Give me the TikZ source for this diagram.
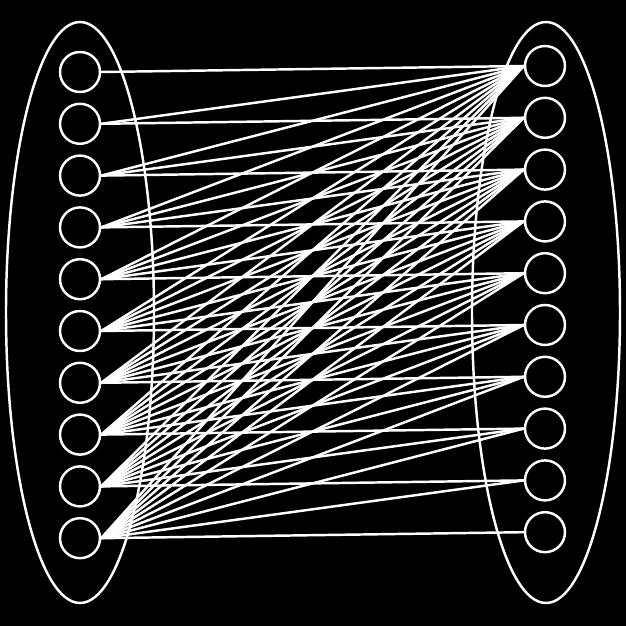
\documentclass[tikz,border=0pt]{standalone}
\usepackage{tikz}
\usetikzlibrary{shapes.geometric}

\begin{document}
\begin{tikzpicture}[
  unit/.style={draw=white, circle, line width=1.4pt, minimum size=0.8cm, inner sep=0pt, font=\scriptsize, text=black},
  group/.style={draw=white, ellipse, line width=1.4pt, minimum width=2.96cm, minimum height=11.62cm, inner sep=0pt},
  edge/.style={white, line width=1.4pt}
]
\fill[black] (0,0) rectangle (12.52,12.52);
\useasboundingbox (0,0) rectangle (12.52,12.52);
% the two layers
\node[group] (lgroup) at (1.6,6.27) {};
\node[group] (rgroup) at (10.92,6.27) {};
\foreach \i in {0,...,9} {
  \node[unit] (l\i) at (1.6,11.08-\i*1.036) {\i};
  \node[unit] (r\i) at (10.9,11.2-\i*1.036) {\i};
}
% connections
\foreach \i in {0,...,9} {
  \foreach \j in {0,...,\i} {
    \draw[edge] (l\i.east) -- (r\j.west);
  }
}
\end{tikzpicture}
\end{document}
